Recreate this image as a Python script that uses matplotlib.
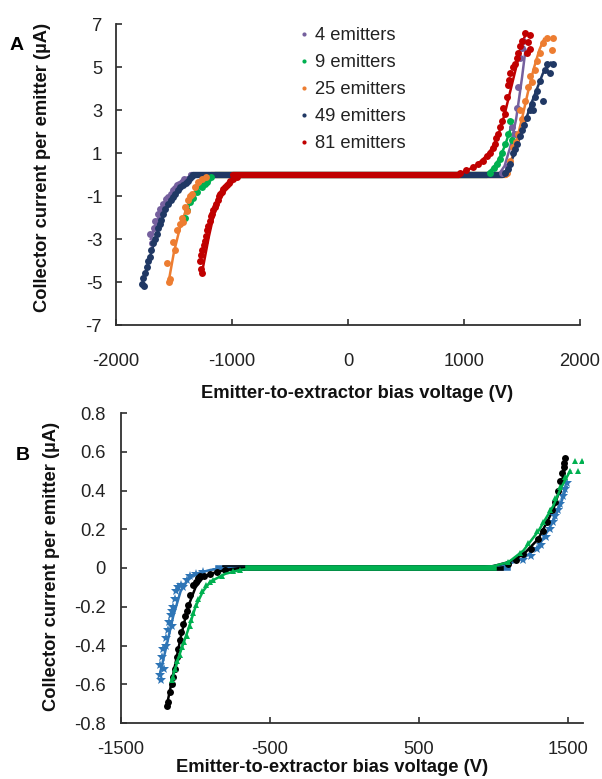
import matplotlib
matplotlib.use("Agg")
import matplotlib.pyplot as plt

plt.rcParams['font.family'] = ['Liberation Sans', 'DejaVu Sans']
plt.rcParams['axes.unicode_minus'] = False

# ---------------- panel A data (V, uA per emitter) ----------------
labels_a = ["4 emitters", "9 emitters", "25 emitters", "49 emitters", "81 emitters"]
colors_a = ["#75609e", "#00b050", "#ed7d31", "#203864", "#c00000"]

v_4 = [-1707, -1690, -1675, -1664, -1650, -1638, -1620, -1595, -1580, -1565, -1552, -1530,
       -1509, -1490, -1474, -1455, -1431, -1410,
       1328, 1380, 1414, 1422, 1440, 1457, 1466, 1483, 1500, 1509]
i_4 = [-2.76, -3.2, -2.5, -2.14, -2.2, -1.83, -1.6, -1.37, -1.4, -1.15, -1.06, -0.9,
       -0.74, -0.62, -0.51, -0.45, -0.36, -0.2,
       0.05, 0.4, 2.2, 1.26, 1.9, 3.1, 4.05, 5.44, 5.9, 6.2]

v_9 = [-1405, -1388, -1360, -1336, -1300, -1259, -1230, -1216, -1207, -1180,
       1224, 1260, 1284, 1310, 1328, 1353, 1379, 1397, 1414]
i_9 = [-2.0, -1.67, -1.3, -1.07, -0.8, -0.6, -0.42, -0.37, -0.2, -0.1,
       0.09, 0.3, 0.51, 0.7, 0.98, 1.44, 1.9, 2.5, 1.6]

v_25 = [-1560, -1534, -1540, -1509, -1491, -1474, -1448, -1431, -1420, -1405, -1390, -1379,
        -1360, -1345, -1319, -1293, -1259, -1220,
        1371, 1397, 1422, 1445, 1466, 1483, 1500, 1526, 1552, 1569, 1590, 1612, 1629, 1655,
        1681, 1716, 1767, 1759]
i_25 = [-4.1, -4.84, -5.0, -3.16, -3.5, -2.6, -2.3, -2.0, -2.2, -1.53, -1.7, -1.2,
        -1.0, -0.9, -0.6, -0.37, -0.2, -0.1,
        0.05, 0.65, 1.26, 1.5, 1.9, 2.98, 2.6, 3.44, 4.05, 4.6, 4.3, 4.84, 5.3, 5.63,
        6.1, 6.37, 6.37, 5.77]

v_49 = [-1776, -1767, -1760, -1750, -1733, -1720, -1707, -1695, -1681, -1665, -1647, -1635,
        -1621, -1608, -1595, -1575, -1552, -1530, -1509, -1488, -1466, -1445, -1422, -1400,
        -1379, -1360, -1345,
        1350, 1380, 1397, 1422, 1440, 1457, 1480, 1500, 1520, 1543, 1565, 1586, 1595, 1610,
        1629, 1655, 1681, 1698, 1716, 1741, 1767]
i_49 = [-5.07, -4.8, -5.2, -4.6, -4.3, -4.0, -3.85, -3.5, -3.2, -3.0, -2.76, -2.5,
        -2.3, -2.1, -1.83, -1.6, -1.37, -1.2, -1.06, -0.9, -0.74, -0.6, -0.51, -0.38,
        -0.28, -0.15, -0.05,
        0.05, 0.25, 0.51, 0.98, 1.2, 1.44, 1.8, 2.05, 2.3, 2.65, 3.0, 3.3, 3.0, 3.6,
        3.9, 4.37, 3.44, 4.84, 5.16, 4.7, 5.16]

v_81 = [-1259, -1265, -1276, -1268, -1259, -1245, -1233, -1225, -1216, -1205, -1190, -1180,
        -1172, -1160, -1147, -1135, -1121, -1110, -1103, -1090, -1078, -1060, -1043, -1030,
        -1017, -990, -957,
        966, 1020, 1078, 1120, 1164, 1200, 1224, 1250, 1267, 1280, 1293, 1310, 1328, 1336,
        1350, 1371, 1379, 1390, 1397, 1420, 1440, 1455, 1466, 1483, 1500, 1526, 1543, 1552,
        1569, 1569]
i_81 = [-4.6, -4.4, -4.0, -3.75, -3.5, -3.3, -3.07, -2.85, -2.6, -2.4, -2.14, -1.95,
        -1.83, -1.65, -1.53, -1.35, -1.2, -1.0, -0.9, -0.8, -0.67, -0.6, -0.51, -0.4,
        -0.28, -0.2, -0.12,
        0.09, 0.2, 0.33, 0.5, 0.65, 0.85, 1.02, 1.25, 1.44, 1.7, 1.9, 2.2, 2.5, 3.07,
        2.8, 3.6, 4.14, 4.4, 4.7, 5.0, 5.16, 5.4, 5.63, 6.0, 6.23, 6.6, 5.63, 6.14,
        6.47, 5.86]

# fitted curves
fv_4 = [-1700, -1650, -1600, -1550, -1500, -1450, -1400, -1350, -1300, 1300, 1350, 1400, 1450, 1500, 1530]
fi_4 = [-3.0, -2.2, -1.6, -1.1, -0.7, -0.4, -0.18, -0.05, 0, 0, 0.4, 1.3, 2.6, 4.5, 5.8]
fv_9 = [-1400, -1350, -1300, -1250, -1200, -1150, -1100, 1150, 1200, 1250, 1300, 1350, 1400, 1420]
fi_9 = [-1.8, -1.2, -0.75, -0.4, -0.15, -0.03, 0, 0, 0.05, 0.3, 0.7, 1.3, 2.1, 2.5]
fv_25 = [-1540, -1500, -1450, -1400, -1350, -1300, -1250, -1200, -1150, 1350, 1400, 1450, 1500,
         1550, 1600, 1650, 1690]
fi_25 = [-4.8, -3.6, -2.5, -1.7, -1.05, -0.6, -0.28, -0.08, 0, 0, 0.5, 1.5, 2.6, 3.8, 4.9, 5.8, 6.3]
fv_49 = [-1770, -1700, -1650, -1600, -1550, -1500, -1450, -1400, -1350, -1300, 1330, 1380, 1430,
         1480, 1530, 1580, 1630, 1680, 1750]
fi_49 = [-5.0, -3.7, -2.8, -2.05, -1.45, -0.95, -0.55, -0.27, -0.08, 0, 0, 0.3, 0.9,
         1.7, 2.5, 3.3, 4.0, 4.7, 5.2]
fv_81 = [-1260, -1200, -1150, -1100, -1050, -1000, -950, -900, -850, 900, 1000, 1100, 1200,
         1250, 1300, 1350, 1400, 1450, 1500, 1530]
fi_81 = [-4.6, -2.9, -1.7, -0.95, -0.5, -0.22, -0.08, -0.02, 0, 0, 0.12, 0.4, 0.9,
         1.3, 1.9, 2.8, 3.9, 5.0, 6.1, 6.5]
# extent of the zero-current plateau for each series
flat_a = [(-1350, 1330), (-1150, 1200), (-1180, 1360), (-1340, 1340), (-990, 960)]

# ---------------- panel B data ----------------
v_blk = [-1191, -1185, -1171, -1160, -1150, -1138, -1125, -1117, -1105, -1095, -1084, -1070,
         -1060, -1050, -1035, -1017, -1000, -985, -970, -940, -900, -856, -800,
         1100, 1150, 1200, 1250, 1300, 1330, 1360, 1390, 1410, 1430, 1446, 1460, 1470, 1475, 1480]
i_blk = [-0.71, -0.69, -0.64, -0.6, -0.56, -0.52, -0.46, -0.42, -0.37, -0.33, -0.29, -0.25,
         -0.22, -0.19, -0.14, -0.09, -0.07, -0.05, -0.04, -0.04, -0.03, -0.02, -0.01,
         0.02, 0.04, 0.07, 0.1, 0.15, 0.19, 0.24, 0.3, 0.34, 0.4, 0.45, 0.49, 0.52, 0.54, 0.57]

v_blu = [-1240, -1235, -1230, -1225, -1218, -1210, -1200, -1195, -1185, -1175, -1165, -1160,
         -1155, -1150, -1140, -1130, -1115, -1100, -1084, -1060, -1037, -1000, -950, -856,
         1200, 1250, 1292, 1320, 1350, 1379, 1400, 1413, 1430, 1446, 1466, 1480, 1490]
i_blu = [-0.55, -0.5, -0.58, -0.46, -0.42, -0.52, -0.4, -0.36, -0.32, -0.28, -0.24, -0.22,
         -0.3, -0.2, -0.16, -0.12, -0.1, -0.09, -0.1, -0.06, -0.04, -0.03, -0.02, -0.01,
         0.04, 0.06, 0.1, 0.12, 0.16, 0.2, 0.24, 0.27, 0.3, 0.33, 0.37, 0.41, 0.44]

v_grn = [-1160, -1151, -1140, -1125, -1104, -1090, -1075, -1057, -1040, -1030, -1017, -1000,
         -985, -957, -930, -900, -882, -820, -748, -700,
         1100, 1178, 1230, 1292, 1330, 1379, 1410, 1446, 1480, 1513, 1547, 1567, 1594]
i_grn = [-0.58, -0.56, -0.52, -0.48, -0.45, -0.41, -0.38, -0.35, -0.3, -0.27, -0.23, -0.19,
         -0.16, -0.12, -0.09, -0.07, -0.06, -0.04, -0.015, -0.01,
         0.03, 0.08, 0.13, 0.19, 0.24, 0.3, 0.36, 0.42, 0.47, 0.5, 0.55, 0.5, 0.55]

fv_blk = [-1190, -1150, -1100, -1050, -1000, -950, -900, -800, -700, 900, 1000, 1100, 1200,
          1300, 1400, 1450, 1480]
fi_blk = [-0.7, -0.55, -0.36, -0.2, -0.1, -0.05, -0.03, -0.01, 0, 0, 0.01, 0.03, 0.07,
          0.15, 0.3, 0.42, 0.52]
fv_blu = [-1240, -1200, -1150, -1100, -1050, -1000, -900, -800, 900, 1100, 1200, 1300, 1400,
          1450, 1490]
fi_blu = [-0.55, -0.42, -0.25, -0.12, -0.06, -0.03, -0.01, 0, 0, 0.02, 0.05, 0.11, 0.24,
          0.33, 0.42]
fv_grn = [-1160, -1100, -1050, -1000, -950, -900, -800, -700, -600, 900, 1000, 1100, 1200,
          1300, 1400, 1450, 1513]
fi_grn = [-0.58, -0.43, -0.32, -0.2, -0.12, -0.07, -0.03, -0.01, 0, 0, 0.01, 0.03, 0.09,
          0.19, 0.32, 0.41, 0.5]

fs = 13.2
spine_c = "#303030"

fig = plt.figure(figsize=(6.02, 7.79), dpi=100)
W, H = 602.0, 779.0


def style(ax, xpad, ypad):
    for s in ["top", "right"]:
        ax.spines[s].set_visible(False)
    for s in ["left", "bottom"]:
        ax.spines[s].set_color(spine_c)
        ax.spines[s].set_linewidth(1.3)
    ax.tick_params(direction="in", length=4, width=1.2, color=spine_c, labelsize=fs,
                   labelcolor="#222222")
    ax.tick_params(axis="x", pad=xpad)
    ax.tick_params(axis="y", pad=ypad)


# ---------------- panel A ----------------
axA = fig.add_axes([116 / W, 1 - 325 / H, 464 / W, 301 / H])
xs = [v_4, v_9, v_25, v_49, v_81]
ys = [i_4, i_9, i_25, i_49, i_81]
fxs = [fv_4, fv_9, fv_25, fv_49, fv_81]
fys = [fi_4, fi_9, fi_25, fi_49, fi_81]
for k in range(5):
    c = colors_a[k]
    axA.plot(flat_a[k], [0, 0], color=c, lw=4.5, solid_capstyle="round", zorder=2)
    axA.plot(fxs[k], fys[k], color=c, lw=1.8, zorder=2)
    axA.plot(xs[k], ys[k], "o", color=c, ms=5, mew=0, label=labels_a[k], zorder=3)
axA.set_xlim(-2000, 2000)
axA.set_ylim(-7, 7)
axA.set_xticks([-2000, -1000, 0, 1000, 2000])
axA.set_yticks([-7, -5, -3, -1, 1, 3, 5, 7])
style(axA, 20, 10)
leg = axA.legend(loc="upper left", bbox_to_anchor=((293 - 116) / 464, 1.013), frameon=False,
                 fontsize=fs, handlelength=0.4, handletextpad=0.4, labelspacing=0.54,
                 markerscale=0.6, borderaxespad=0)
for t in leg.get_texts():
    t.set_color("#222222")
fig.text(357 / W, 1 - 393 / H, "Emitter-to-extractor bias voltage (V)", ha="center",
         va="center", fontsize=fs, fontweight="bold", color="#111111")
fig.text(43 / W, 1 - 167 / H, "Collector current per emitter (\u00b5A)", ha="center",
         va="center", rotation=90, fontsize=fs, fontweight="bold", color="#111111")
fig.text(17 / W, 1 - 45 / H, "A", ha="center", va="center", fontsize=14, fontweight="bold")

# ---------------- panel B ----------------
axB = fig.add_axes([121 / W, 1 - 723 / H, 462 / W, 310 / H])
axB.plot([-850, 1100], [0, 0], color="#2e75b6", lw=4, zorder=2)
axB.plot([-800, 1050], [0, 0], color="black", lw=4, zorder=2)
axB.plot(fv_blu, fi_blu, color="#2e75b6", lw=1.8, zorder=2)
axB.plot(fv_blk, fi_blk, color="black", lw=1.8, zorder=2)
axB.plot(v_blu, i_blu, "*", color="#2e75b6", ms=7, mew=0, zorder=3)
axB.plot(v_blk, i_blk, "o", color="black", ms=5, mew=0, zorder=4)
axB.plot([-650, 1000], [0, 0], color="#00b050", lw=4, zorder=5)
axB.plot(fv_grn, fi_grn, color="#00b050", lw=1.8, zorder=5)
axB.plot(v_grn, i_grn, "^", color="#00b050", ms=4.5, mew=0, zorder=5)
axB.set_xlim(-1500, 1600)
axB.set_ylim(-0.8, 0.8)
axB.set_xticks([-1500, -500, 500, 1500])
axB.set_yticks([-0.8, -0.6, -0.4, -0.2, 0, 0.2, 0.4, 0.6, 0.8])
axB.set_yticklabels(["-0.8", "-0.6", "-0.4", "-0.2", "0", "0.2", "0.4", "0.6", "0.8"])
style(axB, 13, 11)
fig.text(332 / W, 1 - 768 / H, "Emitter-to-extractor bias voltage (V)", ha="center",
         va="center", fontsize=fs, fontweight="bold", color="#111111")
fig.text(52 / W, 1 - 566 / H, "Collector current per emitter (\u00b5A)", ha="center",
         va="center", rotation=90, fontsize=fs, fontweight="bold", color="#111111")
fig.text(23 / W, 1 - 455 / H, "B", ha="center", va="center", fontsize=14, fontweight="bold")

fig.savefig("out.png", dpi=100)
